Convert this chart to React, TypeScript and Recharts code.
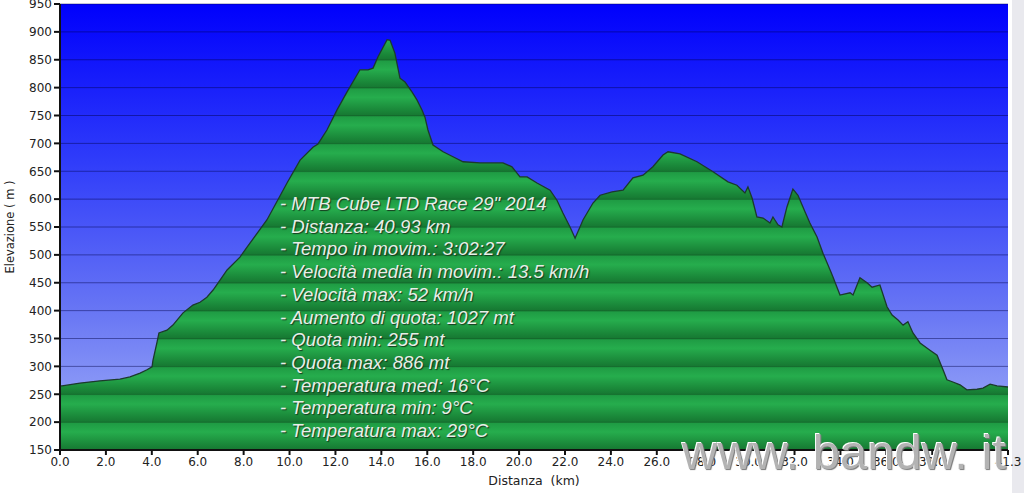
import { AreaChart, Area, XAxis, YAxis, CartesianGrid, Label } from "recharts";

const dist = [
  0.0, 0.09, 0.87, 1.74, 2.61, 3.05, 3.49, 3.79, 4.01, 4.05, 4.23, 4.31, 4.66, 4.92, 5.36, 5.79,
  6.1, 6.4, 6.67, 7.28, 7.84, 8.15, 9.02, 9.89, 10.46, 11.02, 11.24, 11.63, 12.07, 12.5, 13.07,
  13.42, 13.64, 13.85, 14.25, 14.38, 14.59, 14.81, 15.03, 15.34, 15.55, 15.77, 15.9, 16.03,
  16.25, 16.69, 17.12, 17.56, 18.3, 18.86, 19.3, 19.69, 20.04, 20.35, 20.78, 21.35, 21.65,
  21.91, 22.22, 22.44, 22.79, 23.22, 23.53, 24.05, 24.53, 24.96, 25.4, 25.83, 26.27, 26.49,
  27.01, 27.75, 28.45, 29.1, 29.49, 29.84, 29.97, 30.15, 30.36, 30.63, 30.93, 31.06, 31.28,
  31.45, 31.67, 31.93, 32.15, 32.46, 32.67, 32.98, 33.24, 33.55, 33.68, 33.98, 34.42, 34.55,
  34.85, 35.16, 35.38, 35.72, 36.03, 36.25, 36.51, 36.73, 36.94, 37.16, 37.47, 37.9, 38.21,
  38.47, 38.64, 38.9, 39.21, 39.51, 39.95, 40.21, 40.52, 40.82, 41.3,
];

const elevation = [
  265, 265, 270, 274, 277, 281, 288, 294, 299, 311, 344, 360, 365, 374, 396, 410,
  415, 424, 437, 473, 496, 514, 563, 629, 670, 693, 699, 724, 760, 792, 832,
  832, 835, 855, 886, 885, 862, 817, 810, 792, 778, 760, 747, 724,
  697, 685, 676, 667, 665, 665, 665, 658, 640, 640, 629, 616, 598,
  575, 550, 530, 563, 593, 607, 613, 616, 638, 643, 658, 679, 685,
  681, 667, 649, 631, 625, 611, 622, 602, 568, 566, 557, 568, 554,
  550, 586, 618, 607, 577, 557, 532, 503, 473, 460, 428, 432, 428,
  459, 450, 442, 446, 407, 392, 383, 374, 380, 360, 342, 329, 320,
  294, 276, 272, 267, 258, 259, 261, 268, 265, 263,
];

const xTicks = [0, 2, 4, 6, 8, 10, 12, 14, 16, 18, 20, 22, 24, 26, 28, 30, 32, 34, 36, 38, 41.3];
const yTicks = [150, 200, 250, 300, 350, 400, 450, 500, 550, 600, 650, 700, 750, 800, 850, 900, 950];

const infoLines = [
  '- MTB Cube LTD Race 29" 2014',
  "- Distanza: 40.93 km",
  "- Tempo in movim.: 3:02:27",
  "- Velocità media in movim.: 13.5 km/h",
  "- Velocità max: 52 km/h",
  "- Aumento di quota: 1027 mt",
  "- Quota min: 255 mt",
  "- Quota max: 886 mt",
  "- Temperatura med: 16°C",
  "- Temperatura min: 9°C",
  "- Temperatura max: 29°C",
];

const data = dist.map((d, i) => ({ km: d, ele: elevation[i] }));

// striped green: one band per 50 m grid step
const bands = yTicks.length - 1;
const greenStops: { o: number; c: string }[] = [];
for (let i = 0; i < bands; i++) {
  const t0 = i / bands;
  const t1 = (i + 1) / bands;
  greenStops.push({ o: t0, c: "#146a2c" });
  greenStops.push({ o: t0 + 0.003, c: "#1f9c44" });
  greenStops.push({ o: t0 + 0.022, c: "#26ad4d" });
  greenStops.push({ o: t1 - 0.012, c: "#1a8739" });
  greenStops.push({ o: t1 - 0.002, c: "#177a33" });
}

const tickStyle = { fontFamily: "DejaVu Sans", fontSize: 12, fill: "#222" };

export default function App() {
  return (
    <div style={{ position: "absolute", left: 0, top: 0, width: 1024, height: 493, background: "#fff" }}>
      <div style={{ position: "absolute", left: 1012, top: 0, width: 12, height: 493, background: "#e9e9ee" }} />
      <AreaChart width={1024} height={493} data={data} margin={{ top: 4, right: 16, left: 0, bottom: 13 }}>
        <defs>
          <linearGradient id="sky" x1="0" y1="0" x2="0" y2="1">
            <stop offset="0" stopColor="#0000fc" />
            <stop offset="0.35" stopColor="#2f3cfa" />
            <stop offset="0.7" stopColor="#6a78f4" />
            <stop offset="1" stopColor="#a4b2f8" />
          </linearGradient>
          <linearGradient id="ground" gradientUnits="userSpaceOnUse" x1="0" y1="4" x2="0" y2="450">
            {greenStops.map((s, i) => (
              <stop key={i} offset={s.o} stopColor={s.c} />
            ))}
          </linearGradient>
        </defs>
        <CartesianGrid vertical={false} fill="url(#sky)" fillOpacity={1} stroke="rgba(0,0,70,0.45)" />
        <XAxis
          dataKey="km"
          type="number"
          domain={[0, 41.3]}
          ticks={xTicks}
          interval={0}
          tickFormatter={(v: number) => v.toFixed(1)}
          tick={tickStyle}
          tickSize={5}
          height={30}
          stroke="#111"
          strokeWidth={2}
        >
          <Label
            value={"Distanza\u00A0\u00A0(km)"}
            position="insideBottom"
            offset={-5}
            style={{ fontFamily: "DejaVu Sans", fontSize: 12.5, fill: "#222" }}
          />
        </XAxis>
        <YAxis
          type="number"
          domain={[150, 950]}
          ticks={yTicks}
          interval={0}
          tick={tickStyle}
          tickSize={6}
          width={60}
          stroke="#111"
          strokeWidth={2}
        >
          <Label
            value="Elevazione ( m )"
            angle={-90}
            position="insideLeft"
            offset={10}
            style={{ fontFamily: "DejaVu Sans", fontSize: 11.5, fill: "#222", textAnchor: "middle" }}
          />
        </YAxis>
        <Area
          type="linear"
          dataKey="ele"
          stroke="#1c3a2c"
          strokeWidth={1.3}
          fill="url(#ground)"
          fillOpacity={1}
          baseValue={150}
          isAnimationActive={false}
          dot={false}
          activeDot={false}
        />
      </AreaChart>
      <div
        style={{
          position: "absolute",
          left: 280,
          top: 193,
          fontFamily: "Liberation Sans",
          fontStyle: "italic",
          fontSize: 18.6,
          lineHeight: "22.7px",
          color: "#e8efe8",
          textShadow: "1px 1px 1px #163a1e",
          whiteSpace: "pre",
        }}
      >
        {infoLines.map((t, i) => (
          <div key={i}>{t}</div>
        ))}
      </div>
      <div
        style={{
          position: "absolute",
          left: 682,
          top: 428,
          fontFamily: "Liberation Sans",
          fontSize: 49,
          lineHeight: "49px",
          color: "#b3b3b3",
          textShadow: "-1px -1px 0 #fff, 1px 1px 1px #777",
          whiteSpace: "pre",
        }}
      >
        www. bandw. it
      </div>
    </div>
  );
}
